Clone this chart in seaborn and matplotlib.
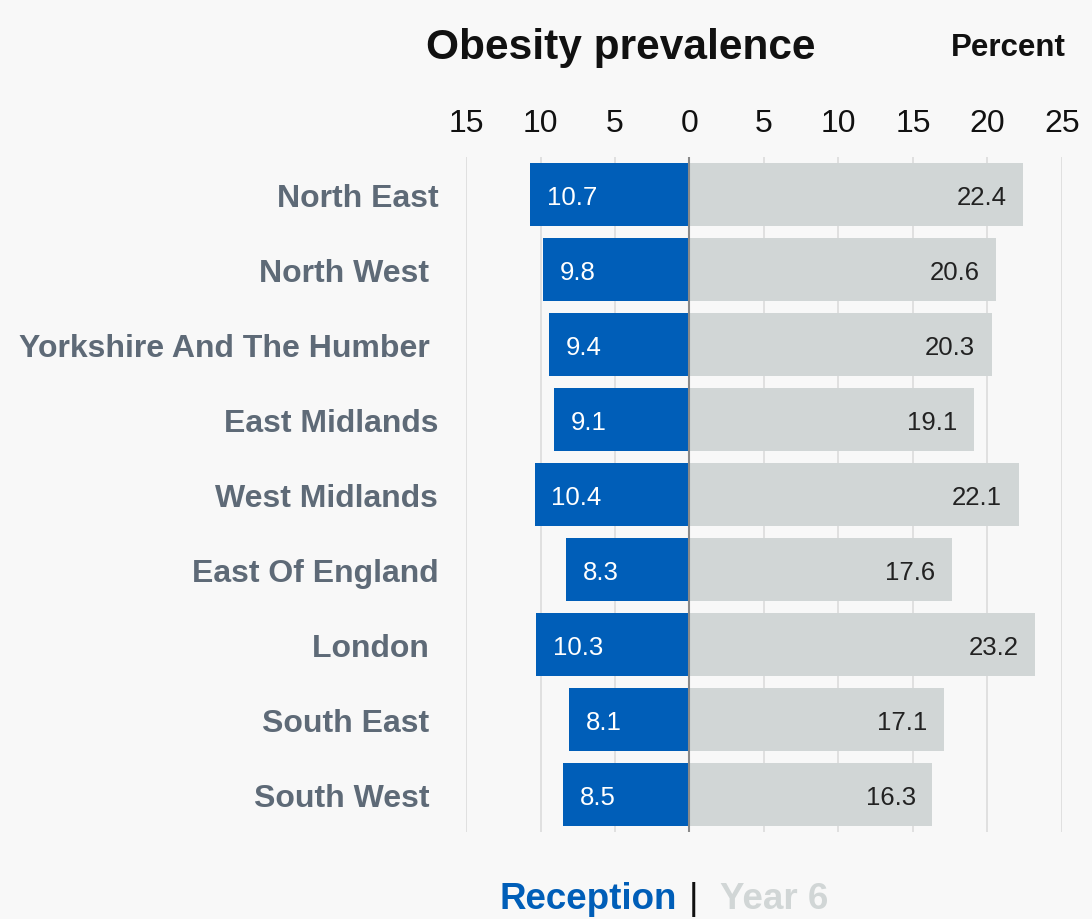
import matplotlib
matplotlib.use("Agg")
import matplotlib.pyplot as plt
import seaborn as sns
import pandas as pd

regions = ["North East", "North West ", "Yorkshire And The Humber ", "East Midlands",
           "West Midlands", "East Of England", "London ", "South East ", "South West "]
reception = [10.7, 9.8, 9.4, 9.1, 10.4, 8.3, 10.3, 8.1, 8.5]
year6 = [22.4, 20.6, 20.3, 19.1, 22.1, 17.6, 23.2, 17.1, 16.3]
xticks = [-15, -10, -5, 0, 5, 10, 15, 20, 25]
xticklabels = ["15", "10", "5", "0", "5", "10", "15", "20", "25"]

BLUE = "#005EB8"
GREY = "#D1D6D6"
BG = "#F8F8F8"
LABEL = "#5E6A77"

sns.set_style("white")
plt.rcParams["font.family"] = ["Liberation Sans", "DejaVu Sans"]

df = pd.DataFrame({"region": regions,
                   "reception_neg": [-v for v in reception],
                   "year6": year6})

fig = plt.figure(figsize=(10.92, 9.2), dpi=100, facecolor=BG)
ax = fig.add_axes([466 / 1092, 1 - 833 / 920, (1062 - 466) / 1092, (833 - 158) / 920])
ax.set_facecolor(BG)

for x in xticks:
    if x != 0:
        ax.axvline(x, color="#DCDCDC", lw=1.2, zorder=0)

sns.barplot(data=df, x="reception_neg", y="region", order=regions, color=BLUE,
            saturation=1, width=0.83, orient="h", ax=ax, zorder=2, linewidth=0)
sns.barplot(data=df, x="year6", y="region", order=regions, color=GREY,
            saturation=1, width=0.83, orient="h", ax=ax, zorder=2, linewidth=0)
ax.axvline(0, color="#8A8A8A", lw=1.5, zorder=3)

for i, (r, y) in enumerate(zip(reception, year6)):
    ax.annotate(f"{r}", xy=(-r, i), xytext=(12, 0), textcoords="offset points",
                ha="left", va="center_baseline", color="white", fontsize=18.5, zorder=4)
    ax.annotate(f"{y}", xy=(y, i), xytext=(-12, 0), textcoords="offset points",
                ha="right", va="center_baseline", color="#222222", fontsize=18.5, zorder=4)

ax.set_xlim(-15, 25)
ax.set_ylim(8.5, -0.5)
ax.xaxis.tick_top()
ax.set_xticks(xticks)
ax.set_xticklabels(xticklabels)
ax.tick_params(axis="x", length=0, pad=14, labelsize=23, labelcolor="#111111")
ax.tick_params(axis="y", length=0, pad=20, labelsize=23, labelcolor=LABEL)
for lab in ax.get_yticklabels():
    lab.set_fontweight("bold")
ax.set_xlabel("")
ax.set_ylabel("")
for s in ax.spines.values():
    s.set_visible(False)

fig.text(621 / 1092, 1 - 48 / 920, "Obesity prevalence", ha="center", va="center",
         fontsize=30.5, fontweight="bold", color="#111111")
fig.text(1066 / 1092, 1 - 48 / 920, "Percent", ha="right", va="center",
         fontsize=22.5, fontweight="bold", color="#111111")

ly = 1 - 909 / 920
fig.text(677 / 1092, ly, "Reception", ha="right", va="baseline",
         fontsize=26.5, fontweight="bold", color=BLUE)
fig.text(693 / 1092, ly, "|", ha="center", va="baseline",
         fontsize=26.5, color="#111111")
fig.text(720 / 1092, ly, "Year 6", ha="left", va="baseline",
         fontsize=26.5, fontweight="bold", color=GREY)

fig.savefig("out.png", dpi=100, facecolor=BG)
